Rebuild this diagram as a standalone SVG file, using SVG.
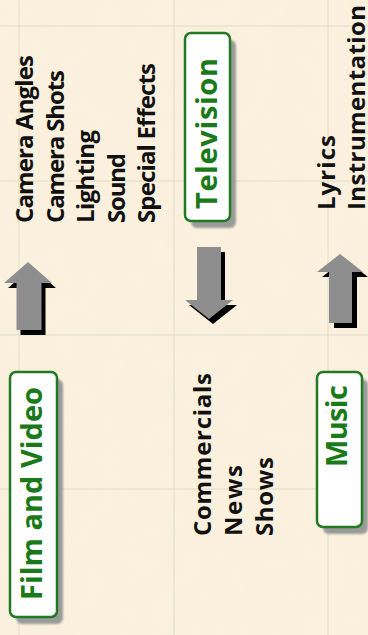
<svg xmlns="http://www.w3.org/2000/svg" width="368" height="635" viewBox="0 0 368 635">
  <defs>
    <filter id="paper" x="0" y="0" width="100%" height="100%">
      <feTurbulence type="fractalNoise" baseFrequency="0.04" numOctaves="3" seed="4" result="n"/>
      <feColorMatrix in="n" type="matrix" values="0 0 0 0 0.9  0 0 0 0 0.8  0 0 0 0 0.6  0 0 0 0.35 0"/>
    </filter>
    <filter id="soft" x="-30%" y="-10%" width="160%" height="120%">
      <feGaussianBlur stdDeviation="1.2"/>
    </filter>
    <style>
      .grid { stroke: #e0dcc6; stroke-width: 1; fill: none; }
      .box { fill: #ffffff; stroke: #217a21; stroke-width: 2.5; }
      .shadow { fill: #9a9a9a; filter: url(#soft); }
      .label { font-family: "Open Sans", "Liberation Sans", sans-serif; font-weight: bold; font-size: 29px; fill: #1a7a1a; }
      .item { font-family: "Open Sans", "Liberation Sans", sans-serif; font-weight: bold; font-size: 24px; fill: #111111; }
      .arrow { fill: #8e8e8e; }
      .ashadow { fill: #000000; }
    </style>
  </defs>

  <rect x="0" y="0" width="368" height="635" fill="#fbf1df"/>
  <rect x="0" y="0" width="368" height="635" filter="url(#paper)" opacity="0.3"/>

  <g id="grid">
    <line class="grid" x1="19" y1="0" x2="19" y2="635"/>
    <line class="grid" x1="174" y1="0" x2="174" y2="635"/>
    <line class="grid" x1="328" y1="0" x2="328" y2="635"/>
    <line class="grid" x1="0" y1="26" x2="368" y2="26"/>
    <line class="grid" x1="0" y1="181" x2="368" y2="181"/>
    <line class="grid" x1="0" y1="335" x2="368" y2="335"/>
    <line class="grid" x1="0" y1="489" x2="368" y2="489"/>
  </g>

  <g id="film-and-video">
    <rect class="shadow" x="16" y="379" width="47" height="245" rx="6"/>
    <rect class="box" x="10" y="372" width="47" height="245" rx="6"/>
    <text class="label" transform="translate(42,600) rotate(-90)" textLength="213">Film and Video</text>
  </g>

  <g id="television">
    <rect class="shadow" x="191" y="40" width="45" height="188" rx="6"/>
    <rect class="box" x="185" y="33" width="45" height="188" rx="6"/>
    <text class="label" transform="translate(217,209) rotate(-90)" textLength="151">Television</text>
  </g>

  <g id="music">
    <rect class="shadow" x="323" y="379" width="45" height="155" rx="6"/>
    <rect class="box" x="317" y="372" width="45" height="155" rx="6"/>
    <text class="label" transform="translate(347,467) rotate(-90)" textLength="82">Music</text>
  </g>

  <g id="film-topics">
    <text class="item" transform="translate(33,223) rotate(-90)" textLength="168">Camera Angles</text>
    <text class="item" transform="translate(63.5,223) rotate(-90)" textLength="153">Camera Shots</text>
    <text class="item" transform="translate(94,223) rotate(-90)" textLength="93">Lighting</text>
    <text class="item" transform="translate(124.5,223) rotate(-90)" textLength="70">Sound</text>
    <text class="item" transform="translate(155,223) rotate(-90)" textLength="160">Special Effects</text>
  </g>

  <g id="television-topics">
    <text class="item" transform="translate(211,536) rotate(-90)" textLength="163">Commercials</text>
    <text class="item" transform="translate(242,536) rotate(-90)" textLength="71">News</text>
    <text class="item" transform="translate(273,536) rotate(-90)" textLength="79">Shows</text>
  </g>

  <g id="music-topics">
    <text class="item" transform="translate(335,210) rotate(-90)" textLength="75">Lyrics</text>
    <text class="item" transform="translate(365,210) rotate(-90)" textLength="205">Instrumentation</text>
  </g>

  <g id="connectors">
    <g id="arrow-film">
      <polygon class="ashadow" transform="translate(4,5)" points="28,262 52,283 41.5,283 41.5,330 16.5,330 16.5,283 4,283"/>
      <polygon class="arrow" points="28,262 52,283 41.5,283 41.5,330 16.5,330 16.5,283 4,283"/>
    </g>
    <g id="arrow-television">
      <polygon class="ashadow" transform="translate(4,5)" points="197,247 221,247 221,300 233,300 209,319 185,300 197,300"/>
      <polygon class="arrow" points="197,247 221,247 221,300 233,300 209,319 185,300 197,300"/>
    </g>
    <g id="arrow-music">
      <polygon class="ashadow" transform="translate(5,5)" points="340,254 363,272 352,272 352,323 329,323 329,272 317,272"/>
      <polygon class="arrow" points="340,254 363,272 352,272 352,323 329,323 329,272 317,272"/>
    </g>
  </g>
</svg>
